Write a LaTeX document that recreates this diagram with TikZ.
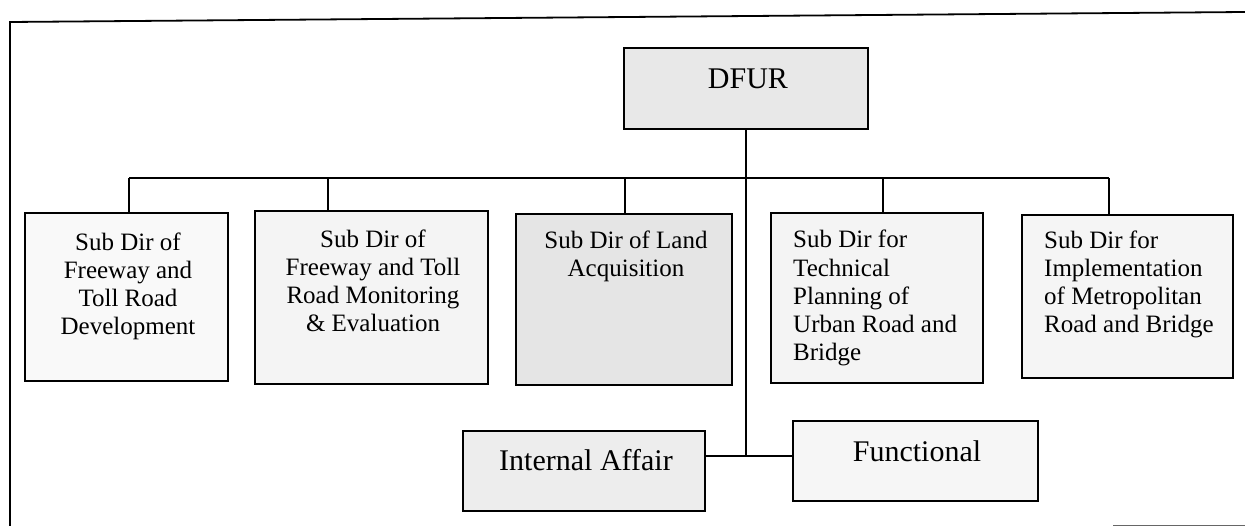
\documentclass[tikz,border=0pt]{standalone}
\usepackage{fontspec}
\setmainfont{Liberation Serif}
\begin{document}
\begin{tikzpicture}[x=1pt,y=-1pt,
  box/.style={draw=black, line width=1.6pt, rectangle, inner sep=0pt, outer sep=0pt},
  conn/.style={draw=black, line width=1.1pt},
  frame/.style={draw=black, line width=1.8pt},
  big/.style={font=\fontsize{30}{34}\selectfont, inner sep=0pt},
  small/.style={font=\fontsize{25}{28.3}\selectfont, inner sep=0pt}]
\useasboundingbox (0,0) rectangle (1245,526);
% frame
\draw[frame] (10,526) -- (10,22) -- (1245,12);
\draw[draw=black!60, line width=1pt] (1113,525) -- (1245,525);
% boxes
\node[box, fill=gray!18, minimum width=244pt, minimum height=81pt] (dfur) at (746,88.5) {};
\node[box, fill=gray!5, minimum width=203pt, minimum height=168pt] (b1) at (126.5,297) {};
\node[box, fill=gray!9, minimum width=233pt, minimum height=173pt] (b2) at (371.5,297.5) {};
\node[box, fill=gray!20, minimum width=216pt, minimum height=171pt] (b3) at (624,299.5) {};
\node[box, fill=gray!9, minimum width=212pt, minimum height=170pt] (b4) at (877,298) {};
\node[box, fill=gray!8, minimum width=211pt, minimum height=163pt] (b5) at (1127.5,296.5) {};
\node[box, fill=gray!14, minimum width=242pt, minimum height=80pt] (ia) at (584,471) {};
\node[box, fill=gray!7, minimum width=245pt, minimum height=80pt] (fn) at (915.5,461) {};
% texts
\node[big, anchor=base] (tdfur) at (748,89) {DFUR};
\node[big, anchor=base] (tia) at (586,470) {Internal Affair};
\node[big, anchor=base] (tfn) at (917,461) {Functional};
\node[small, anchor=base, align=center] (t1) at (128,335) {Sub Dir of\\Freeway and\\Toll Road\\Development};
\node[small, anchor=base, align=center] (t2) at (373,332) {Sub Dir of\\Freeway and Toll\\Road Monitoring\\\& Evaluation};
\node[small, anchor=base, align=center] (t3) at (626,277) {Sub Dir of Land\\Acquisition};
\node[small, anchor=base west, align=left] (t4) at (793,361) {Sub Dir for\\Technical\\Planning of\\Urban Road and\\Bridge};
\node[small, anchor=base west, align=left] (t5) at (1044,333) {Sub Dir for\\Implementation\\of Metropolitan\\Road and Bridge};
% connectors
\coordinate (k1) at (129,178);
\coordinate (k2) at (328,178);
\coordinate (k3) at (625,178);
\coordinate (k4) at (883,178);
\coordinate (k5) at (1109,178);
\coordinate (j) at (746,456);
\draw[conn] (k1) -- (k5);
\draw[conn] (k1) -- (k1 |- b1.north);
\draw[conn] (k2) -- (k2 |- b2.north);
\draw[conn] (k3) -- (k3 |- b3.north);
\draw[conn] (k4) -- (k4 |- b4.north);
\draw[conn] (k5) -- (k5 |- b5.north);
\draw[conn] (dfur.south) -- (j);
\draw[conn] (j -| ia.east) -- (j -| fn.west);
\end{tikzpicture}
\end{document}
